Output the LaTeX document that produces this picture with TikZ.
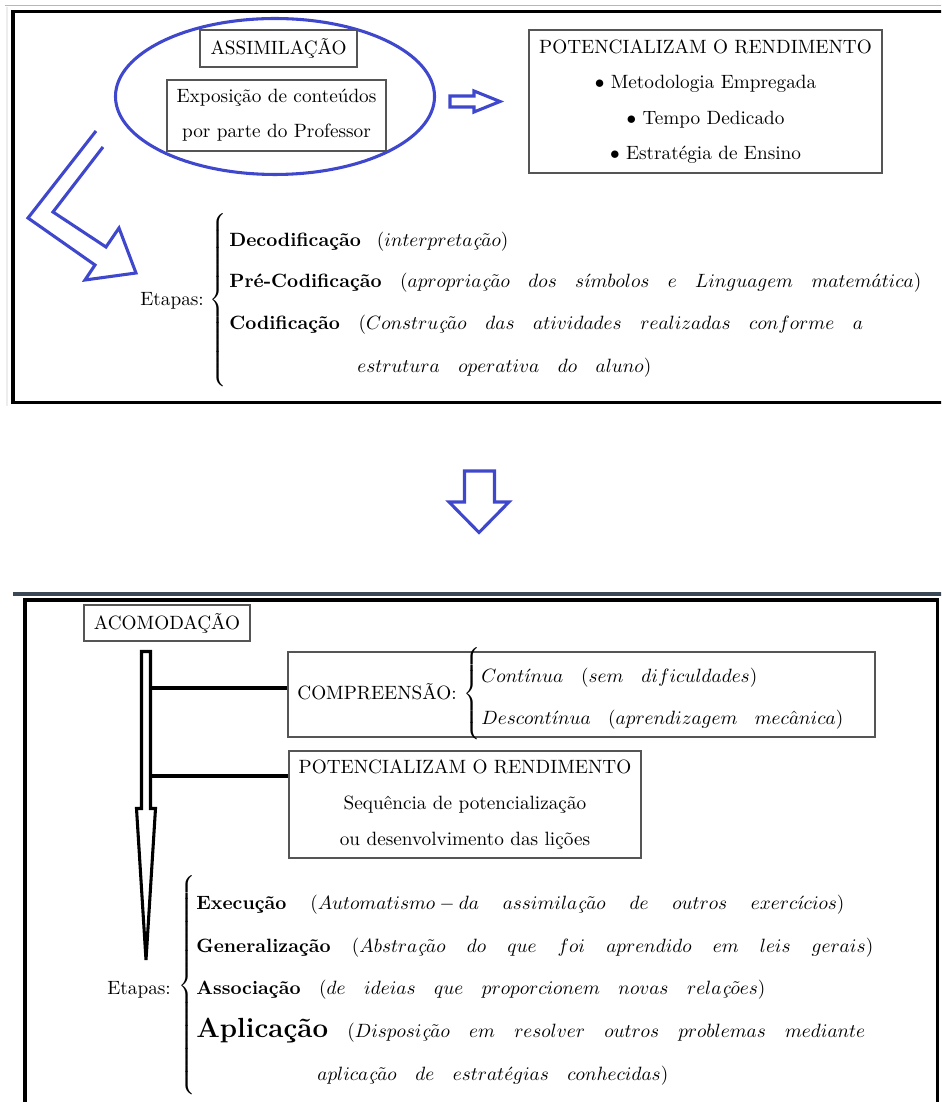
\documentclass[tikz,border=0pt]{standalone}
\usetikzlibrary{shapes.geometric}
\definecolor{arrowblue}{RGB}{63,72,204}
\definecolor{boxgray}{RGB}{85,85,85}
\definecolor{slate}{RGB}{58,72,86}
\definecolor{framegray}{RGB}{180,184,188}
\newcommand{\cedc}{\mbox{\itshape ç}}
\newcommand{\wsep}{\hskip 4pt plus 1fill\relax}
\newcommand{\openbrace}[1]{$\nulldelimiterspace=0pt\left\{\vrule height #1 depth #1 width 0pt\right.$}

\begin{document}
\begin{tikzpicture}[
  x=0.52pt, y=-0.52pt, % 1 unidade = 1 pixel da figura
  box/.style={draw=boxgray, line width=0.6pt, inner sep=0pt, align=center},
  txt/.style={inner sep=0pt, anchor=base west},
  chave/.style={inner sep=0pt},
  ring/.style={draw=arrowblue, line width=1.6pt, ellipse, inner sep=0pt},
  bluearrow/.style={draw=arrowblue, line width=1.6pt, line join=miter},
  blackarrow/.style={draw=black, line width=1.6pt, line join=miter},
  link/.style={draw=black, line width=1.6pt},
  frame/.style={draw=black, line width=1.9pt},
  ]
\useasboundingbox (0,0) rectangle (941,1102);
\clip (0,0) rectangle (941,1102);

% molduras
\draw[framegray, line width=1pt] (5,5.5) -- (945,5.5);
\draw[black!7, line width=1pt] (7,7) -- (7,406);
\draw[frame] (945,11.5) -- (13,11.5) -- (13,402.5) -- (945,402.5);
\draw[slate, line width=2.1pt] (13,594) -- (945,594);
\draw[frame] (25,1110) -- (25,600) -- (937.5,600) -- (937.5,1110);

% Assimilacao
\node[ring, minimum width=165.9pt, minimum height=81.1pt] (ring) at (275,96.5) {};
\node[box, minimum width=81.6pt, minimum height=19.2pt] (assim) at (278.5,48.5) {ASSIMILAÇÃO};
\node[box, minimum width=113.9pt, minimum height=36.9pt] (expo) at (276.5,115.5)
  {Exposição de conteúdos\\[6.2pt]por parte do Professor};

\draw[bluearrow] (450,96) -- (474,96) -- (474,91) -- (500,101.5) -- (474,112) -- (474,107) -- (450,107) -- cycle;

\node[box, minimum width=183.6pt, minimum height=74.4pt] (pot) at (705.5,101.5)
  {POTENCIALIZAM O RENDIMENTO\\[6.5pt]$\bullet$ Metodologia Empregada\\[6.5pt]$\bullet$ Tempo Dedicado\\[6.5pt]$\bullet$ Estratégia de Ensino};

% seta curva
\draw[bluearrow] (96,131) -- (28,218) -- (95,265) -- (85,280) -- (136,273) -- (119,228) -- (106,247) -- (53,212) -- (103,147);

% Etapas (assimilacao)
\node[txt] (etapasA) at (140,306) {Etapas:};
\node[chave] (chaveA) at (218,300) {\openbrace{42.6pt}};
\node[txt] (decod) at (229,247) {\hbox to 145.1pt{\textbf{Decodificação}\wsep$(interpreta\cedc\tilde{a}o)$}};
\node[txt] (precod) at (229,288) {\hbox to 359.8pt{\textbf{Pré-Codificação}\wsep$(apropria\cedc\tilde{a}o\wsep dos\wsep s\acute{\imath}mbolos\wsep e\wsep Linguagem\wsep matem\acute{a}tica)$}};
\node[txt] (codif) at (229,330) {\hbox to 329.7pt{\textbf{Codificação}\wsep$(Constru\cedc\tilde{a}o\wsep das\wsep atividades\wsep realizadas\wsep conforme\wsep a$}};
\node[txt] (codifB) at (357,373) {\hbox to 152.9pt{$estrutura\wsep operativa\wsep do\wsep aluno)$}};

% seta para baixo
\draw[bluearrow] (464.5,471) -- (494.5,471) -- (494.5,502) -- (509,502) -- (479,532.5) -- (449,502) -- (464.5,502) -- cycle;

% Acomodacao
\node[box, minimum width=86.3pt, minimum height=18.7pt] (acom) at (167,623) {ACOMODAÇÃO};
\draw[blackarrow] (141.5,651.5) -- (150.5,651.5) -- (150.5,808.5) -- (155.5,808.5) -- (146,960) -- (136.5,808.5) -- (141.5,808.5) -- cycle;
\coordinate (hasteA) at (150.5,688);
\coordinate (hasteB) at (150.5,776);

\node[box, minimum width=305.2pt, minimum height=44.2pt] (comp) at (581.5,694.5) {};
\node[txt] (comptxt) at (297,699) {COMPREENSÃO:};
\node[chave] (chaveB) at (472,694) {\openbrace{21.3pt}};
\node[txt] (cont) at (481,682) {\hbox to 143.5pt{$Cont\acute{\imath}nua\wsep(sem\wsep dificuldades)$}};
\node[txt] (desc) at (481,724) {\hbox to 188.2pt{$Descont\acute{\imath}nua\wsep(aprendizagem\wsep mec\hat{a}nica)$}};

\node[box, minimum width=183pt, minimum height=55.6pt] (potB) at (465,804.5)
  {POTENCIALIZAM O RENDIMENTO\\[6.7pt]Sequência de potencialização\\[6.7pt]ou desenvolvimento das lições};

\draw[link] (hasteA) -- (comp.west |- hasteA);
\draw[link] (hasteB) -- (potB.west |- hasteB);

% Etapas (acomodacao)
\node[txt] (etapasB) at (107,994) {Etapas:};
\node[chave] (chaveC) at (187,986) {\openbrace{55.1pt}};
\node[txt] (exec) at (196,909) {\hbox to 337pt{\textbf{Execução}\wsep$(Automatismo-da\wsep assimila\cedc\tilde{a}o\wsep de\wsep outros\wsep exerc\acute{\imath}cios)$}};
\node[txt] (gener) at (196,952) {\hbox to 352pt{\textbf{Generalização}\wsep$(Abstra\cedc\tilde{a}o\wsep do\wsep que\wsep foi\wsep aprendido\wsep em\wsep leis\wsep gerais)$}};
\node[txt] (assoc) at (196,994) {\hbox to 295.9pt{\textbf{Associação}\wsep$(de\wsep ideias\wsep que\wsep proporcionem\wsep novas\wsep rela\cedc\tilde{o}es)$}};
\node[txt] (aplic) at (196,1037) {\hbox to 347.9pt{{\Large\textbf{Aplicação}}\wsep$(Disposi\cedc\tilde{a}o\wsep em\wsep resolver\wsep outros\wsep problemas\wsep mediante$}};
\node[txt] (aplicB) at (317,1080) {\hbox to 182.5pt{$aplica\cedc\tilde{a}o\wsep de\wsep estrat\acute{e}gias\wsep conhecidas)$}};

\end{tikzpicture}
\end{document}
